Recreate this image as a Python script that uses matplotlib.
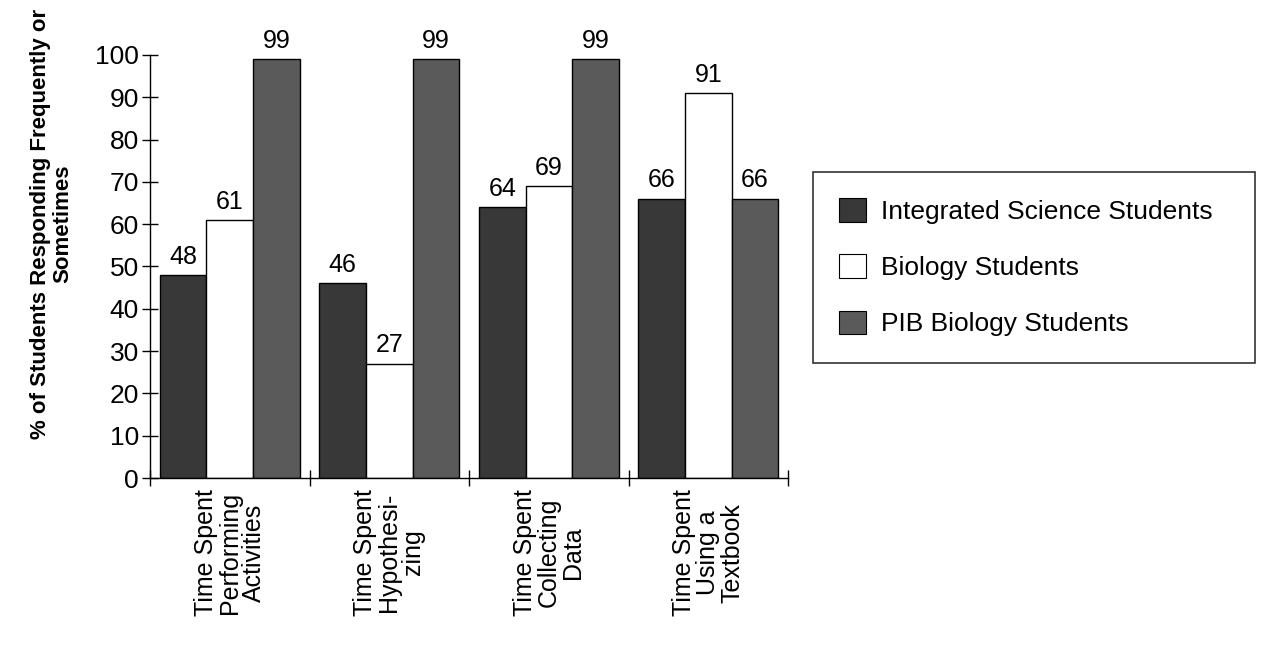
import matplotlib

matplotlib.use("Agg")

import matplotlib.pyplot as plt
from matplotlib.patches import Patch
import numpy as np

categories = [
    "Time Spent\nPerforming\nActivities",
    "Time Spent\nHypothesi-\nzing",
    "Time Spent\nCollecting\nData",
    "Time Spent\nUsing a\nTextbook",
]
series_names = [
    "Integrated Science Students",
    "Biology Students",
    "PIB Biology Students",
]
integrated = [48, 46, 64, 66]
biology = [61, 27, 69, 91]
pib = [99, 99, 99, 66]

plt.rcParams["font.family"] = ["Liberation Sans", "DejaVu Sans"]

fig = plt.figure(figsize=(12.66, 6.46), dpi=100)
ax = fig.add_axes([0.1185, 0.26, 0.504, 0.655])

x = np.arange(len(categories))
width = 0.292
colors = ["#383838", "white", "#5a5a5a"]
for i, (vals, col) in enumerate(zip([integrated, biology, pib], colors)):
    bars = ax.bar(x + (i - 1) * width, vals, width, color=col,
                  edgecolor="black", linewidth=1.0)
    for b, v in zip(bars, vals):
        ax.text(b.get_x() + b.get_width() / 2, v + 1.5, str(v),
                ha="center", va="bottom", fontsize=18)

ax.set_xlim(-0.5, 3.5)
ax.set_ylim(0, 100)
ax.set_yticks(np.arange(0, 101, 10))
ax.tick_params(axis="y", direction="inout", length=12, width=1, labelsize=19, pad=2)
ax.set_xticks(x)
ax.set_xticklabels(categories, rotation=90, ha="center", va="top",
                   multialignment="center", fontsize=18, linespacing=1.0)
ax.tick_params(axis="x", length=0, pad=8)
ax.set_xticks(np.arange(-0.5, 3.6, 1), minor=True)
ax.tick_params(axis="x", which="minor", direction="inout", length=12, width=1)
for s in ["top", "right"]:
    ax.spines[s].set_visible(False)
ax.spines["left"].set_linewidth(1)
ax.spines["bottom"].set_linewidth(1)

ax.set_ylabel("% of Students Responding Frequently or\nSometimes",
              fontsize=16, fontweight="bold", linespacing=1.1)
ax.yaxis.set_label_coords(-0.12, 0.6)

handles = [Patch(facecolor=c, edgecolor="black", linewidth=0.8) for c in colors]
leg = fig.legend(handles, series_names, loc="upper left",
                 bbox_to_anchor=(0.642, 0.734, 0.349, 0.0), mode="expand",
                 borderaxespad=0, fontsize=19, frameon=True,
                 fancybox=False, edgecolor="black", handlelength=1.0,
                 handleheight=1.0, labelspacing=1.15, borderpad=1.0,
                 handletextpad=0.6)
leg.get_frame().set_linewidth(1.2)

fig.savefig("out.png", dpi=100)
